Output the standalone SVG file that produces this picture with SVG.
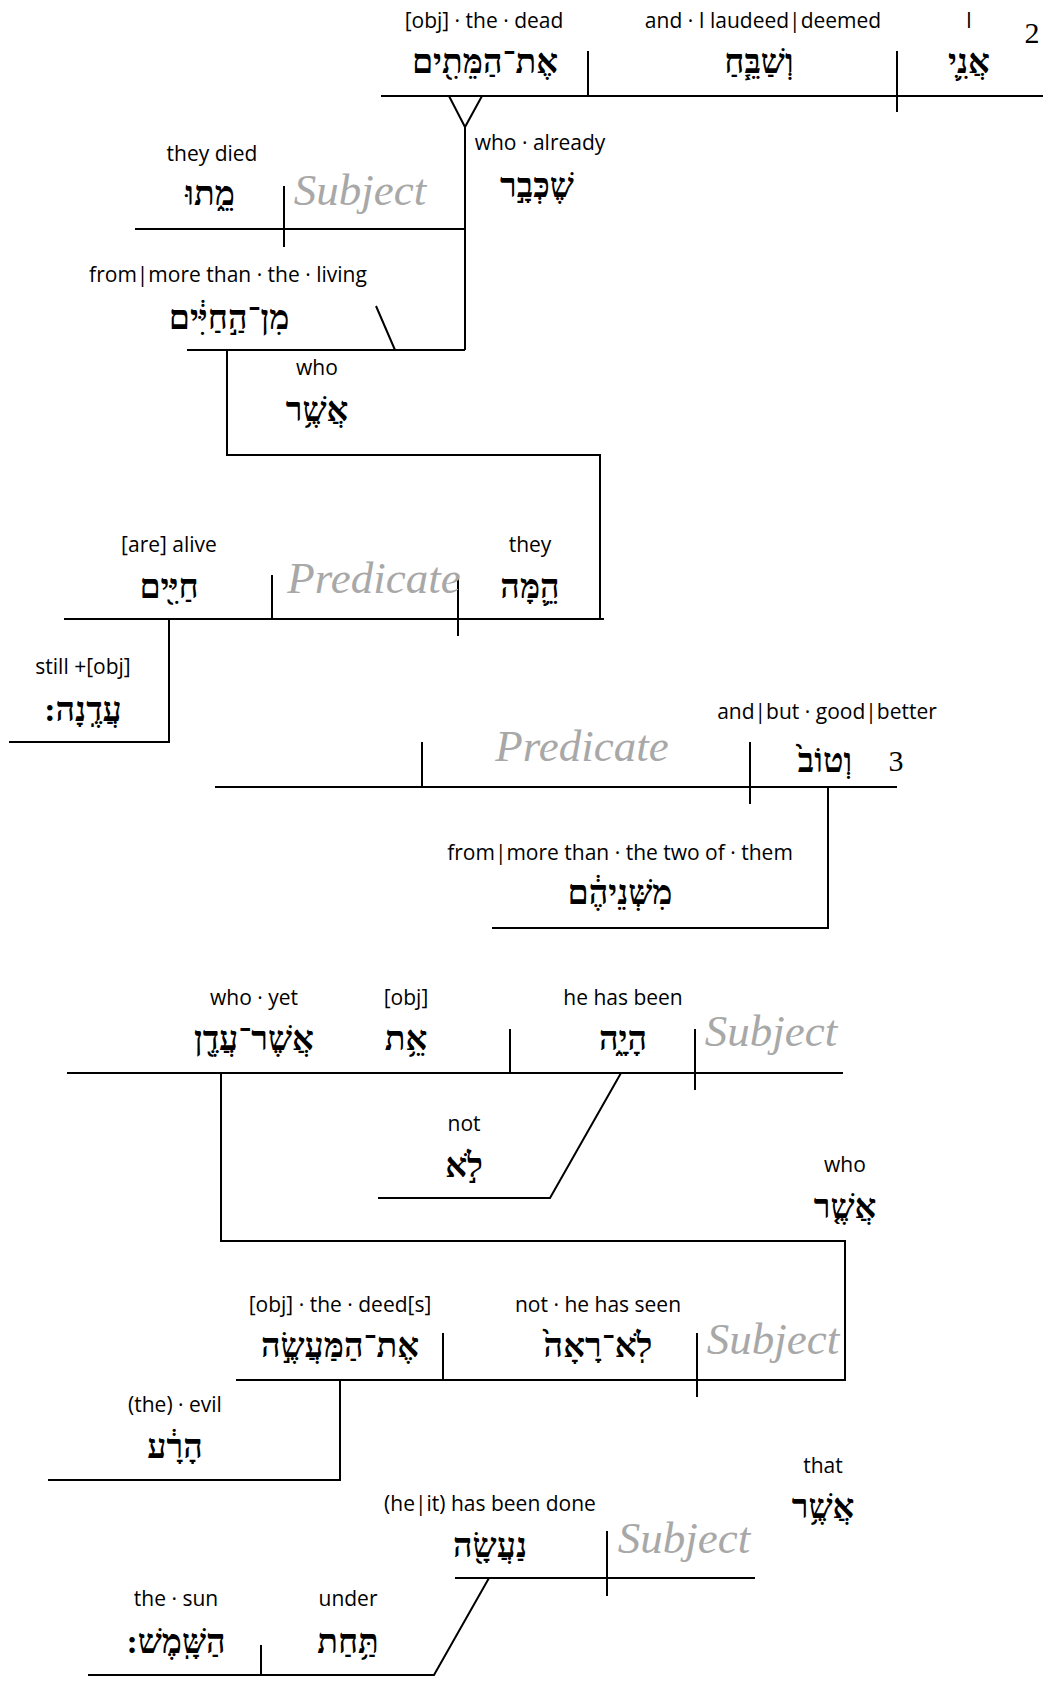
<svg xmlns="http://www.w3.org/2000/svg" width="1049" height="1686" viewBox="0 0 1049 1686">
<style>
.ln{stroke:#000;stroke-width:2;fill:none}
.en{font-family:"Open Sans","Noto Sans",sans-serif;font-size:21px;fill:#000;text-anchor:middle}
.he{font-family:"Liberation Serif","DejaVu Sans",serif;font-size:34px;font-weight:bold;fill:#000;text-anchor:middle;direction:rtl}
.ph{font-family:"Liberation Serif",serif;font-style:italic;font-size:45px;fill:#a8a8a8;text-anchor:middle}
.num{font-family:"Liberation Serif",serif;font-size:30px;fill:#000;text-anchor:middle}
</style>
<rect width="1049" height="1686" fill="#fff"/>
<g id="connectors">
<path class="ln" d="M381,96H1043M588,51V96M897,51V112"/>
<path class="ln" d="M449,96L465,127L482,96M465,127V350"/>
<path class="ln" d="M135,229H465M284,186V247"/>
<path class="ln" d="M187,350H465M376,306L395,350"/>
<path class="ln" d="M227,350V455H600V619"/>
<path class="ln" d="M64,619H604M272,575V619M458,575V636"/>
<path class="ln" d="M169,619V742H9"/>
<path class="ln" d="M215,787H897M422,742V787M750,742V804"/>
<path class="ln" d="M828,787V928H492"/>
<path class="ln" d="M67,1073H843M510,1029V1073M695,1029V1090"/>
<path class="ln" d="M621,1073L550,1198H378"/>
<path class="ln" d="M221,1073V1241H845V1381"/>
<path class="ln" d="M236,1380H845M443,1333V1380M697,1333V1397"/>
<path class="ln" d="M340,1380V1480H48"/>
<path class="ln" d="M455,1578H755M607,1531V1596"/>
<path class="ln" d="M489,1578L434,1675H88M261,1645V1675"/>
</g>
<g id="n-ani"><text class="en" x="969" y="28">I</text><text class="he" x="969" y="73">אֲנִ֛י</text></g>
<g id="n-shibach"><text class="en" x="763" y="28">and · I laudeed|deemed</text><text class="he" x="759" y="73">וְשַׁבֵּ֧חַ</text></g>
<g id="n-hametim"><text class="en" x="484" y="28">[obj] · the · dead</text><text class="he" x="485" y="73">אֶת־הַמֵּתִ֖ים</text></g>
<g id="n-v2"><text class="num" x="1032" y="43">2</text></g>
<g id="n-shekvar"><text class="en" x="540" y="150">who · already</text><text class="he" x="537" y="197">שֶׁכְּבָ֣ר</text></g>
<g id="n-metu"><text class="en" x="212" y="161">they died</text><text class="he" x="210" y="205">מֵ֑תוּ</text></g>
<g id="n-subj1"><text class="ph" x="360" y="205">Subject</text></g>
<g id="n-min"><text class="en" x="228" y="282">from|more than · the · living</text><text class="he" x="229" y="329">מִן־הַ֣חַיִּ֔ים</text></g>
<g id="n-asher1"><text class="en" x="317" y="375">who</text><text class="he" x="317" y="421">אֲשֶׁ֥ר</text></g>
<g id="n-hema"><text class="en" x="530" y="552">they</text><text class="he" x="530" y="598">הֵ֛מָּה</text></g>
<g id="n-pred1"><text class="ph" x="374" y="593">Predicate</text></g>
<g id="n-chayim"><text class="en" x="169" y="552">[are] alive</text><text class="he" x="169" y="598">חַיִּ֖ים</text></g>
<g id="n-adena"><text class="en" x="83" y="674">still +[obj]</text><text class="he" x="83" y="721">עֲדֶֽנָה:</text></g>
<g id="n-tov"><text class="en" x="827" y="719">and|but · good|better</text><text class="he" x="825" y="772">וְטוֹב֙</text></g>
<g id="n-v3"><text class="num" x="896" y="771">3</text></g>
<g id="n-pred2"><text class="ph" x="582" y="761">Predicate</text></g>
<g id="n-mishneyhem"><text class="en" x="620" y="860">from|more than · the two of · them</text><text class="he" x="620" y="904">מִשְּׁנֵיהֶ֔ם</text></g>
<g id="n-asheraden"><text class="en" x="254" y="1005">who · yet</text><text class="he" x="254" y="1050">אֲשֶׁר־עֲדֶ֖ן</text></g>
<g id="n-et"><text class="en" x="406" y="1005">[obj]</text><text class="he" x="406" y="1050">אֵ֥ת</text></g>
<g id="n-haya"><text class="en" x="623" y="1005">he has been</text><text class="he" x="623" y="1050">הָיָ֑ה</text></g>
<g id="n-subj2"><text class="ph" x="771" y="1046">Subject</text></g>
<g id="n-lo"><text class="en" x="464" y="1131">not</text><text class="he" x="464" y="1177">לֹ֣א</text></g>
<g id="n-asher2"><text class="en" x="845" y="1172">who</text><text class="he" x="845" y="1218">אֲשֶׁ֤ר</text></g>
<g id="n-haamaase"><text class="en" x="340" y="1312">[obj] · the · deed[s]</text><text class="he" x="340" y="1357">אֶת־הַמַּעֲשֶׂ֣ה</text></g>
<g id="n-loraa"><text class="en" x="598" y="1312">not · he has seen</text><text class="he" x="598" y="1357">לֹֽא־רָאָה֙</text></g>
<g id="n-subj3"><text class="ph" x="773" y="1354">Subject</text></g>
<g id="n-hara"><text class="en" x="175" y="1412">(the) · evil</text><text class="he" x="175" y="1458">הָרָ֔ע</text></g>
<g id="n-asher3"><text class="en" x="823" y="1473">that</text><text class="he" x="823" y="1518">אֲשֶׁ֥ר</text></g>
<g id="n-naasa"><text class="en" x="490" y="1511">(he|it) has been done</text><text class="he" x="490" y="1557">נַעֲשָׂ֖ה</text></g>
<g id="n-subj4"><text class="ph" x="684" y="1553">Subject</text></g>
<g id="n-tachat"><text class="en" x="348" y="1606">under</text><text class="he" x="348" y="1653">תַּ֥חַת</text></g>
<g id="n-hashamesh"><text class="en" x="176" y="1606">the · sun</text><text class="he" x="176" y="1653">הַשָּֽׁמֶשׁ:</text></g>
</svg>
